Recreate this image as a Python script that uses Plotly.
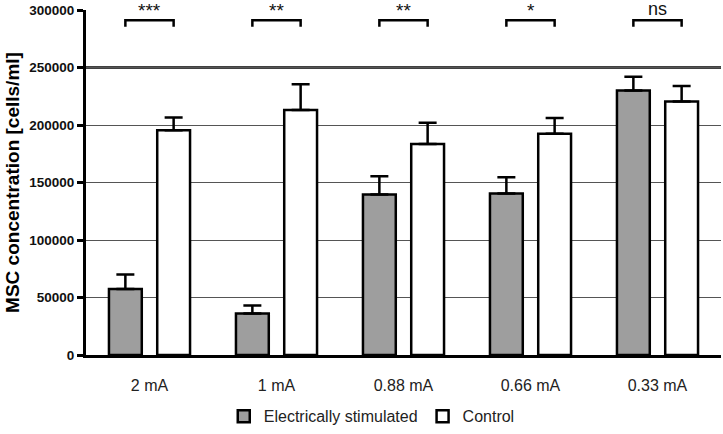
import plotly.graph_objects as go

categories = ["2 mA", "1 mA", "0.88 mA", "0.66 mA", "0.33 mA"]
stimulated = [57500, 36000, 139500, 140500, 230000]
stimulated_err = [12500, 7000, 16000, 14000, 12000]
control = [195500, 213000, 183500, 192500, 220500]
control_err = [11000, 22500, 18500, 13500, 13500]
significance = ["***", "**", "**", "*", "ns"]
y_ticks = [0, 50000, 100000, 150000, 200000, 250000, 300000]

BARGAP = 0.24
GROUPGAP = 0.32
half_step = (1 - BARGAP) / 4  # centre offset of each bar from category centre

fig = go.Figure()
fig.add_trace(go.Bar(
    x=categories, y=stimulated, name="Electrically stimulated",
    marker=dict(color="#9e9e9e", line=dict(color="black", width=2.5)),
    error_y=dict(type="data", array=stimulated_err, arrayminus=[0]*5, symmetric=False,
                 color="black", thickness=2.5, width=9),
))
fig.add_trace(go.Bar(
    x=categories, y=control, name="Control",
    marker=dict(color="white", line=dict(color="black", width=2.5)),
    error_y=dict(type="data", array=control_err, arrayminus=[0]*5, symmetric=False,
                 color="black", thickness=2.5, width=9),
))

# significance brackets
bracket_y = 291000
leg_y = 285500
for i, s in enumerate(significance):
    x0 = i - half_step
    x1 = i + half_step
    fig.add_shape(type="path",
                  path=f"M {x0},{leg_y} L {x0},{bracket_y} L {x1},{bracket_y} L {x1},{leg_y}",
                  xref="x", yref="y", line=dict(color="black", width=2.5))
    fig.add_annotation(x=i, y=bracket_y, xref="x", yref="y", text=s, showarrow=False,
                       yanchor="bottom", yshift=(-3 if s != "ns" else -1),
                       font=dict(family="Liberation Sans", size=(19 if s != "ns" else 18), color="#111"))

# thick reference line at 250000
fig.add_shape(type="line", x0=0, x1=1, xref="paper", y0=250000, y1=250000, yref="y",
              line=dict(color="black", width=2.5), layer="below")

fig.update_layout(
    width=723, height=434,
    margin=dict(l=86, r=2, t=10, b=78),
    paper_bgcolor="white", plot_bgcolor="white",
    barmode="group", bargap=BARGAP, bargroupgap=GROUPGAP,
    font=dict(family="Liberation Sans", color="black"),
    showlegend=True,
    legend=dict(orientation="h", x=0.45, xanchor="center", y=-0.125, yanchor="top",
                font=dict(size=16, color="#222"), itemwidth=30),
    xaxis=dict(showline=True, linecolor="black", linewidth=3, ticks="",
               tickfont=dict(size=16, color="#222"), ticklabelstandoff=14,
               range=[-0.5, 4.5], showgrid=False, zeroline=False, automargin=False),
    yaxis=dict(range=[0, 300000], tickvals=y_ticks, ticktext=[str(v) for v in y_ticks],
               showline=True, linecolor="black", linewidth=3, ticks="outside",
               ticklen=6, tickwidth=2.5, tickcolor="black",
               tickfont=dict(size=13.5, color="#111", family="Liberation Sans", weight="bold"),
               showgrid=True, gridcolor="#555555", gridwidth=1.3, zeroline=False,
               automargin=False,
               title=dict(text="<b>MSC concentration [cells/ml]</b>",
                          font=dict(size=19, color="black"), standoff=5)),
)

fig.write_html("out.html", config={"displayModeBar": False},
               post_script="document.body.style.margin='0';")
